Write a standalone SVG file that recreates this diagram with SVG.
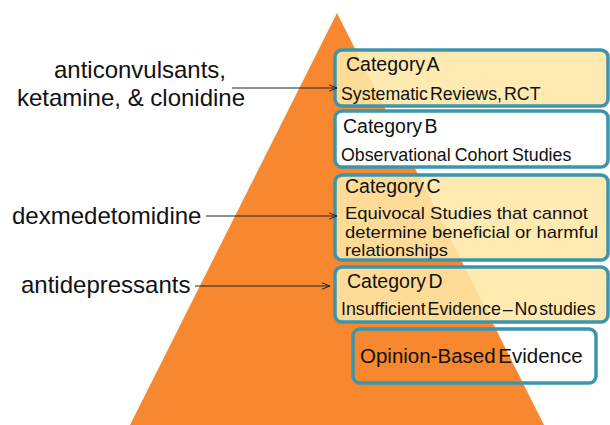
<svg xmlns="http://www.w3.org/2000/svg" width="610" height="425" viewBox="0 0 610 425">
<defs>
<style>
.box{stroke:#3A95AD;stroke-width:3.5}
.yel{fill:#FFE7A6;fill-opacity:0.88}
.t{font-family:"Liberation Sans",Arial,sans-serif;fill:#111}
.lbl{font-size:24px}
.hd{font-size:19.5px;word-spacing:-3px}
.sub{font-size:17.8px}
.csub{font-size:16.2px}
.conn{stroke:#222;stroke-width:1;fill:none}
</style>
<marker id="arr" viewBox="0 0 10 10" refX="10" refY="5" markerWidth="8" markerHeight="8" orient="auto" markerUnits="userSpaceOnUse">
<path d="M0,1 L10,5 L0,9" fill="none" stroke="#222" stroke-width="1.2"/>
</marker>
</defs>
<rect width="610" height="425" fill="#fff"/>
<polygon id="pyramid" points="337,13 544,425 130,425" fill="#F7882F"/>
<g id="catA">
<rect class="box yel" x="335" y="50" width="273" height="56" rx="7"/>
<text class="t hd" x="346" y="71">Category A</text>
<text class="t sub" x="341" y="100" word-spacing="-3">Systematic Reviews, RCT</text>
</g>
<g id="catB">
<rect class="box" x="335" y="111" width="273" height="56" rx="7" fill="#fff"/>
<text class="t hd" x="343" y="133">Category B</text>
<text class="t sub" x="341" y="161" word-spacing="-1">Observational Cohort Studies</text>
</g>
<g id="catC">
<rect class="box yel" x="335" y="175" width="273" height="85" rx="7"/>
<text class="t hd" x="345" y="193">Category C</text>
<text class="t csub" x="345" y="219" textLength="243" lengthAdjust="spacingAndGlyphs">Equivocal Studies that cannot</text>
<text class="t csub" x="345" y="237.5" textLength="253" lengthAdjust="spacingAndGlyphs">determine beneficial or harmful</text>
<text class="t csub" x="345" y="256" textLength="103" lengthAdjust="spacingAndGlyphs">relationships</text>
</g>
<g id="catD">
<rect class="box yel" x="335" y="267" width="273" height="55" rx="7"/>
<text class="t hd" x="347" y="288">Category D</text>
<text class="t sub" x="341" y="315" word-spacing="-3">Insufficient Evidence – No studies</text>
</g>
<g id="opinion">
<rect class="box" x="353" y="329" width="243" height="54" rx="7" fill="none"/>
<text class="t" x="360" y="363" font-size="20.5" word-spacing="-3">Opinion-Based Evidence</text>
</g>
<g id="drug1">
<text class="t lbl" x="140" y="78" text-anchor="middle">anticonvulsants,</text>
<text class="t lbl" x="131" y="106" text-anchor="middle">ketamine, &amp; clonidine</text>
</g>
<g id="drug2">
<text class="t lbl" x="12" y="224">dexmedetomidine</text>
</g>
<g id="drug3">
<text class="t lbl" x="21" y="293">antidepressants</text>
</g>
<g id="connectors">
<line class="conn" x1="232" y1="88" x2="337" y2="88" marker-end="url(#arr)"/>
<line class="conn" x1="206" y1="216" x2="337" y2="216" marker-end="url(#arr)"/>
<line class="conn" x1="195" y1="286" x2="330" y2="286" marker-end="url(#arr)"/>
</g>
</svg>
